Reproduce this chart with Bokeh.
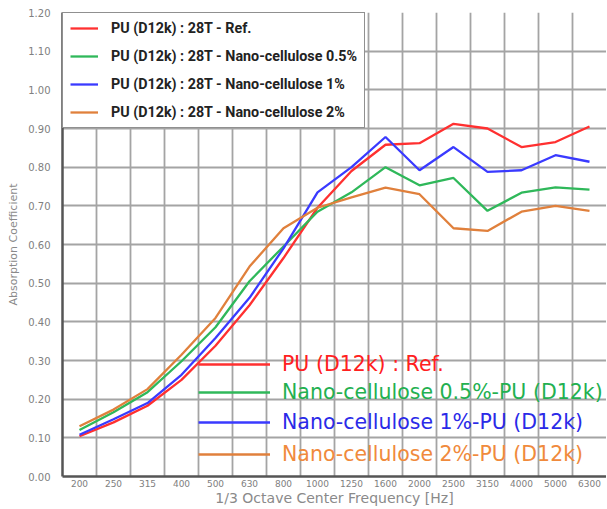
import numpy as np
from bokeh.plotting import figure
from bokeh.models import (Range1d, FixedTicker, NumeralTickFormatter, Legend, LegendItem)
from bokeh.embed import file_html
from bokeh.resources import INLINE

freq_labels = ["200", "250", "315", "400", "500", "630", "800", "1000", "1250",
               "1600", "2000", "2500", "3150", "4000", "5000", "6300"]
ref_vals = [0.104, 0.140, 0.183, 0.250, 0.338, 0.443, 0.565, 0.695, 0.790,
            0.858, 0.862, 0.912, 0.900, 0.852, 0.865, 0.905]
nc05_vals = [0.120, 0.166, 0.218, 0.298, 0.386, 0.505, 0.595, 0.685, 0.735,
             0.800, 0.753, 0.772, 0.687, 0.734, 0.748, 0.742]
nc1_vals = [0.108, 0.148, 0.190, 0.263, 0.358, 0.462, 0.590, 0.735, 0.800,
            0.878, 0.792, 0.852, 0.788, 0.792, 0.831, 0.814]
nc2_vals = [0.130, 0.173, 0.226, 0.315, 0.410, 0.543, 0.642, 0.695, 0.722,
            0.747, 0.730, 0.642, 0.635, 0.685, 0.700, 0.687]
y_ticks = [0.0, 0.1, 0.2, 0.3, 0.4, 0.5, 0.6, 0.7, 0.8, 0.9, 1.0, 1.1, 1.2]

top_labels = ["PU (D12k) : 28T - Ref.",
              "PU (D12k) : 28T - Nano-cellulose 0.5%",
              "PU (D12k) : 28T - Nano-cellulose 1%",
              "PU (D12k) : 28T - Nano-cellulose 2%"]
big_labels = ["PU (D12k) : Ref.",
              "Nano-cellulose 0.5%-PU (D12k)",
              "Nano-cellulose 1%-PU (D12k)",
              "Nano-cellulose 2%-PU (D12k)"]
line_colors = ["#ff3030", "#2fb85a", "#3a3aff", "#e0803c"]
text_colors = ["#ff2020", "#22b050", "#2a2ae8", "#f08a3c"]

n = len(freq_labels)
xc = np.arange(n) + 0.5

p = figure(width=606, height=508, output_backend="svg", toolbar_location=None,
           x_range=Range1d(0, n), y_range=Range1d(0, 1.2),
           min_border_left=62, min_border_top=12, min_border_right=0, min_border_bottom=31)
p.outline_line_color = None
p.background_fill_color = "white"

# axes
p.xaxis.ticker = FixedTicker(ticks=list(xc))
p.xaxis.major_label_overrides = {float(x): lab for x, lab in zip(xc, freq_labels)}
p.yaxis.ticker = FixedTicker(ticks=y_ticks)
p.yaxis.formatter = NumeralTickFormatter(format="0.00")
for ax in (p.xaxis, p.yaxis):
    ax.major_tick_line_color = None
    ax.minor_tick_line_color = None
    ax.major_tick_out = 0
    ax.major_tick_in = 0
    ax.minor_tick_out = 0
    ax.axis_line_color = "#555555"
    ax.axis_line_width = 2.5
    ax.major_label_text_color = "#808080"
    ax.major_label_text_font = "DejaVu Sans"
    ax.axis_label_text_color = "#8a8a8a"
    ax.axis_label_text_font = "DejaVu Sans"
    ax.axis_label_text_font_style = "normal"
p.xaxis.major_label_text_font_size = "9px"
p.yaxis.major_label_text_font_size = "10px"
p.xaxis.major_label_standoff = 3
p.yaxis.major_label_standoff = 12
p.xaxis.axis_label = "1/3 Octave Center Frequency [Hz]"
p.yaxis.axis_label = "Absorption Coefficient"
p.xaxis.axis_label_text_font_size = "14px"
p.yaxis.axis_label_text_font_size = "11px"
p.xaxis.axis_label_standoff = 0
p.yaxis.axis_label_standoff = 5

# grid at category boundaries
p.xgrid.ticker = FixedTicker(ticks=list(range(0, n + 1)))
p.ygrid.ticker = FixedTicker(ticks=y_ticks)
for g in (p.xgrid, p.ygrid):
    g.grid_line_color = "#a4a4a4"
    g.grid_line_width = 1.8

series = [ref_vals, nc05_vals, nc1_vals, nc2_vals]
renderers = []
for vals, col in zip(series, line_colors):
    r = p.line(xc, vals, line_color=col, line_width=2.3)
    renderers.append(r)

# top boxed legend
top_leg = Legend(items=[LegendItem(label=lab, renderers=[r]) for lab, r in zip(top_labels, renderers)],
                 location="top_left", margin=0, padding=7, spacing=12,
                 glyph_width=28, glyph_height=16, label_height=16, label_standoff=13,
                 label_text_font="Roboto", label_text_font_style="bold",
                 label_text_font_size="14.3px", label_text_color="#222222",
                 border_line_color="#222222", border_line_width=1.5,
                 background_fill_color="white", background_fill_alpha=1)
p.add_layout(top_leg)

# large coloured overlay legend, one per series
y_offsets = [99, 71, 41, 9]
for lab, r, tcol, yo in zip(big_labels, renderers, text_colors, y_offsets):
    leg = Legend(items=[LegendItem(label=lab, renderers=[r])],
                 location=(136, yo), margin=0, padding=0, spacing=0,
                 glyph_width=72, glyph_height=26, label_height=26, label_standoff=12,
                 label_text_font="DejaVu Sans", label_text_font_size="20.5px",
                 label_text_color=tcol,
                 border_line_color=None, background_fill_alpha=0)
    p.add_layout(leg)

open("out.html", "w").write(file_html(p, INLINE))
